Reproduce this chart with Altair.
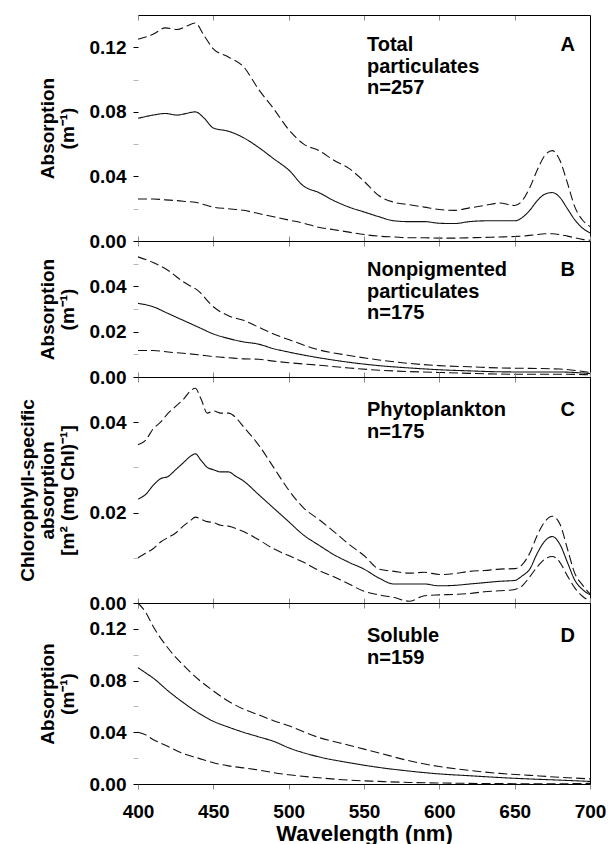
import altair as alt
import pandas as pd

FONT = "Liberation Sans"

# ---------------- Panel A: total particulates ----------------
wl_a = [400, 410, 418, 426, 432, 438, 444, 450, 460, 470, 480, 490, 500, 510, 520,
        530, 540, 550, 560, 570, 580, 590, 600, 610, 620, 630, 640, 650, 655, 660,
        665, 670, 675, 680, 685, 690, 695, 700]
a_upper = [0.125, 0.128, 0.132, 0.131, 0.133, 0.135, 0.127, 0.119, 0.114, 0.108, 0.094,
           0.082, 0.069, 0.060, 0.056, 0.050, 0.045, 0.037, 0.028, 0.024, 0.0225, 0.021,
           0.0195, 0.019, 0.0205, 0.022, 0.0235, 0.022, 0.025, 0.033, 0.044, 0.053, 0.056,
           0.050, 0.036, 0.021, 0.013, 0.009]
a_mean = [0.076, 0.078, 0.079, 0.078, 0.079, 0.080, 0.076, 0.070, 0.068, 0.064, 0.058,
          0.051, 0.044, 0.034, 0.030, 0.025, 0.021, 0.018, 0.015, 0.0125, 0.012, 0.012,
          0.011, 0.0108, 0.012, 0.0125, 0.0125, 0.0125, 0.0145, 0.019, 0.025, 0.029, 0.030,
          0.027, 0.020, 0.013, 0.008, 0.005]
a_lower = [0.026, 0.026, 0.0255, 0.025, 0.0245, 0.024, 0.0225, 0.021, 0.020, 0.019, 0.017,
           0.015, 0.013, 0.011, 0.0085, 0.007, 0.0055, 0.004, 0.003, 0.0025, 0.002, 0.002,
           0.0018, 0.0018, 0.002, 0.0022, 0.0025, 0.0028, 0.003, 0.0035, 0.004, 0.0045,
           0.0045, 0.004, 0.003, 0.002, 0.001, 0.0005]

# ---------------- Panel B: nonpigmented particulates ----------------
wl_b = [400, 410, 420, 430, 440, 450, 460, 470, 480, 490, 500, 520, 540, 560, 580, 600,
        620, 640, 660, 680, 700]
b_upper = [0.053, 0.0505, 0.047, 0.042, 0.038, 0.031, 0.027, 0.025, 0.022, 0.019, 0.0165,
           0.012, 0.0095, 0.0075, 0.006, 0.005, 0.0045, 0.004, 0.0038, 0.0035, 0.002]
b_mean = [0.0325, 0.031, 0.028, 0.025, 0.022, 0.019, 0.017, 0.0155, 0.0145, 0.0125, 0.011,
          0.0085, 0.0065, 0.005, 0.004, 0.0032, 0.0027, 0.0023, 0.0022, 0.0022, 0.0015]
b_lower = [0.0117, 0.0117, 0.011, 0.0105, 0.0098, 0.009, 0.0085, 0.008, 0.0078, 0.007,
           0.0063, 0.0052, 0.004, 0.003, 0.0024, 0.002, 0.0016, 0.0013, 0.0012, 0.0012, 0.001]

# ---------------- Panel C: phytoplankton (chl-specific) ----------------
wl_c = [400, 405, 410, 415, 420, 425, 430, 435, 438, 442, 446, 450, 455, 460, 465, 470,
        480, 490, 500, 510, 520, 530, 540, 550, 560, 570, 580, 590, 600, 610, 620, 630,
        640, 650, 655, 660, 665, 670, 675, 680, 685, 690, 695, 700]
c_upper = [0.035, 0.036, 0.0385, 0.040, 0.042, 0.0435, 0.045, 0.047, 0.0475, 0.045, 0.042,
           0.0425, 0.042, 0.042, 0.041, 0.039, 0.035, 0.030, 0.025, 0.021, 0.0185, 0.0158,
           0.013, 0.0105, 0.0075, 0.007, 0.0066, 0.0068, 0.0063, 0.0065, 0.007, 0.0072,
           0.0075, 0.0076, 0.0085, 0.011, 0.015, 0.018, 0.0192, 0.0175, 0.012, 0.0065,
           0.004, 0.002]
c_mean = [0.023, 0.024, 0.026, 0.0275, 0.028, 0.0295, 0.031, 0.0325, 0.033, 0.0315, 0.030,
          0.0295, 0.029, 0.029, 0.028, 0.027, 0.024, 0.021, 0.018, 0.015, 0.0128, 0.0107,
          0.009, 0.0075, 0.0055, 0.0042, 0.0042, 0.0042, 0.0038, 0.0039, 0.0042, 0.0045,
          0.0048, 0.005, 0.006, 0.0075, 0.011, 0.0137, 0.0147, 0.013, 0.009, 0.005, 0.003,
          0.0018]
c_lower = [0.010, 0.011, 0.012, 0.0135, 0.0145, 0.0155, 0.017, 0.0183, 0.019, 0.0185, 0.018,
           0.0178, 0.0172, 0.017, 0.0165, 0.0158, 0.014, 0.012, 0.0105, 0.009, 0.0072,
           0.0058, 0.0042, 0.0026, 0.0018, 0.0012, 0.0004, 0.0016, 0.0018, 0.0019, 0.0021,
           0.0025, 0.0027, 0.003, 0.0038, 0.0058, 0.008, 0.0097, 0.0103, 0.009, 0.006,
           0.0033, 0.0015, 0.0004]

# ---------------- Panel D: soluble ----------------
wl_d = [400, 405, 410, 420, 430, 440, 450, 460, 470, 480, 490, 500, 520, 540, 560, 580,
        600, 620, 640, 660, 680, 700]
d_upper = [0.140, 0.133, 0.122, 0.105, 0.092, 0.081, 0.072, 0.064, 0.058, 0.0535, 0.049,
           0.045, 0.036, 0.030, 0.024, 0.018, 0.0135, 0.0105, 0.0082, 0.0067, 0.0052, 0.004]
d_mean = [0.090, 0.086, 0.082, 0.072, 0.063, 0.055, 0.0485, 0.044, 0.040, 0.0365, 0.033,
          0.028, 0.021, 0.0165, 0.0128, 0.010, 0.0078, 0.0064, 0.005, 0.0039, 0.003, 0.002]
d_lower = [0.040, 0.038, 0.0345, 0.029, 0.0235, 0.020, 0.0165, 0.014, 0.0125, 0.0108,
           0.0088, 0.0072, 0.0048, 0.003, 0.002, 0.0012, 0.0008, 0.0005, 0.0003, 0.0002,
           0.0002, 0.0005]

# ---------------- axis tick values ----------------
x_ticks = [400, 450, 500, 550, 600, 650, 700]
ticks_a = [0.0, 0.02, 0.04, 0.06, 0.08, 0.10, 0.12]
ticks_b = [0.0, 0.01, 0.02, 0.03, 0.04, 0.05]
ticks_c = [0.0, 0.01, 0.02, 0.03, 0.04]
ticks_d = [0.0, 0.02, 0.04, 0.06, 0.08, 0.10, 0.12]

title_abs = ["Absorption", "(m\u207b\u00b9)"]
title_chl = ["Chlorophyll-specific", "absorption", "[m\u00b2 (mg Chl)\u207b\u00b9]"]

PLOT_W = 452


def to_long(wl, mean, upper, lower):
    rows = []
    for name, vals in (("mean", mean), ("upper", upper), ("lower", lower)):
        for w, v in zip(wl, vals):
            rows.append({"wl": w, "v": v, "s": name})
    return pd.DataFrame(rows)


def panel(df, ymax, ticks, major, ytitle, note, letter, height, note_y,
          top_tick, bottom=False):
    xs = alt.Scale(domain=[400, 700], nice=False, zero=False)
    ys = alt.Scale(domain=[0, ymax], nice=False, zero=True)
    is_major = f"abs(datum.value / {major} - round(datum.value / {major})) < 0.001"
    y_axis = alt.Axis(
        orient="left", values=ticks, domain=False, tickSize=5, tickWidth=1,
        tickColor={"condition": {"test": f"!({is_major})", "value": "#b8b8b8"},
                   "value": "black"},
        labelExpr=f"{is_major} ? format(datum.value, '.2f') : ''",
        labelPadding=7, labelFlush=False, title=ytitle, titlePadding=12,
        titleLineHeight=20,
    )
    if bottom:
        x_axis = alt.Axis(orient="bottom", values=x_ticks, tickSize=5, labels=True,
                          labelFlush=False, labelOverlap=False, labelPadding=13,
                          title="Wavelength (nm)", titlePadding=2, titleFontSize=22)
    else:
        x_axis = alt.Axis(orient="bottom", values=x_ticks, tickSize=5, labels=False,
                          title=None)
    lines = alt.Chart(df).mark_line(
        color="#111111", strokeWidth=1.1, interpolate="monotone"
    ).encode(
        x=alt.X("wl:Q", scale=xs, axis=x_axis),
        y=alt.Y("v:Q", scale=ys, axis=y_axis),
        strokeDash=alt.StrokeDash(
            "s:N",
            scale=alt.Scale(domain=["mean", "upper", "lower"],
                            range=[[1, 0], [9, 4], [9, 4]]),
            legend=None,
        ),
    )
    frame = alt.Chart(df).mark_line(opacity=0).encode(
        x=alt.X("wl:Q", scale=xs,
                axis=alt.Axis(orient="top", values=x_ticks, labels=False, title=None,
                              tickSize=top_tick)),
        y=alt.Y("v:Q", scale=ys,
                axis=alt.Axis(orient="right", labels=False, ticks=False, title=None)),
        detail="s:N",
    )
    one = pd.DataFrame({"k": [0]})
    note_chart = alt.Chart(one).mark_text(
        align="left", baseline="top", font=FONT, fontSize=20, fontWeight="bold",
        lineHeight=21.5, text=note, color="black",
    ).encode(x=alt.value(229), y=alt.value(note_y))
    letter_chart = alt.Chart(one).mark_text(
        align="right", baseline="top", font=FONT, fontSize=20, fontWeight="bold",
        text=letter, color="black",
    ).encode(x=alt.value(437), y=alt.value(note_y))
    return alt.layer(lines, frame, note_chart, letter_chart).resolve_axis(
        x="independent", y="independent"
    ).properties(width=PLOT_W, height=height)


pA = panel(to_long(wl_a, a_mean, a_upper, a_lower), 0.14, ticks_a, 0.04, title_abs,
           ["Total", "particulates", "n=257"], "A", 226, 20, {"expr": "-5"})
pB = panel(to_long(wl_b, b_mean, b_upper, b_lower), 0.06, ticks_b, 0.02, title_abs,
           ["Nonpigmented", "particulates", "n=175"], "B", 136, 19, 5)
pC = panel(to_long(wl_c, c_mean, c_upper, c_lower), 0.05, ticks_c, 0.02, title_chl,
           ["Phytoplankton", "n=175"], "C", 226, 23, 5)
pD = panel(to_long(wl_d, d_mean, d_upper, d_lower), 0.14, ticks_d, 0.04, title_abs,
           ["Soluble", "n=159"], "D", 181, 23, 5, bottom=True)

chart = alt.vconcat(pA, pB, pC, pD, spacing=0, bounds="flush").properties(
    padding={"left": 10, "top": 6, "right": 0, "bottom": 0},
    background="white",
).configure_view(stroke=None).configure_axis(
    labelFont=FONT, labelFontSize=19, labelFontWeight="bold", labelColor="black",
    titleFont=FONT, titleFontSize=19, titleFontWeight="bold", titleColor="black",
    domainColor="black", domainWidth=1, grid=False,
)

chart.save("out.html", embed_options={"renderer": "svg", "actions": False})
